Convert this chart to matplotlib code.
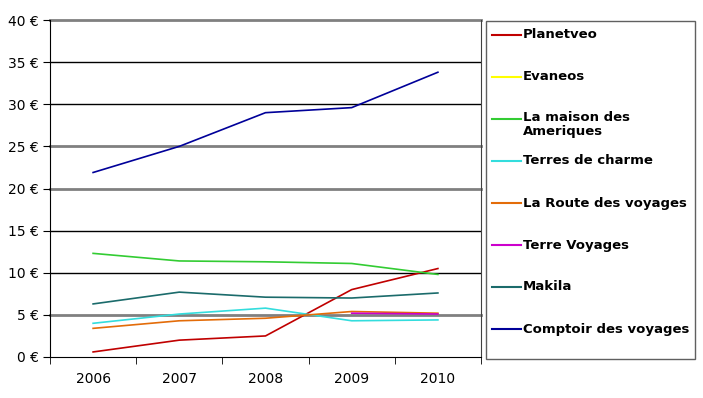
import numpy as np
import matplotlib
matplotlib.use('Agg')
from matplotlib import pyplot as plt
from matplotlib.lines import Line2D
from matplotlib.patches import Rectangle

years = ['2006', '2007', '2008', '2009', '2010']
nan = np.nan

planetveo = [0.6, 2.0, 2.5, 8.0, 10.5]
evaneos = [nan, nan, nan, nan, nan]
maison_ameriques = [12.3, 11.4, 11.3, 11.1, 9.8]
terres_charme = [4.0, 5.1, 5.8, 4.3, 4.4]
route_voyages = [3.4, 4.3, 4.6, 5.4, 5.2]
terre_voyages = [nan, nan, nan, 5.2, 5.1]
makila = [6.3, 7.7, 7.1, 7.0, 7.6]
comptoir = [21.9, 25.0, 29.0, 29.6, 33.8]

series = [
    ('Planetveo', planetveo, '#C00000'),
    ('Evaneos', evaneos, '#FFFF00'),
    ('La maison des\nAmeriques', maison_ameriques, '#33CC33'),
    ('Terres de charme', terres_charme, '#33DDDD'),
    ('La Route des voyages', route_voyages, '#E36C09'),
    ('Terre Voyages', terre_voyages, '#CC00CC'),
    ('Makila', makila, '#1B6B6B'),
    ('Comptoir des voyages', comptoir, '#000099'),
]

y_ticks = [0, 5, 10, 15, 20, 25, 30, 35, 40]
grey_grid = [5, 20, 25, 40]  # these look heavier/grey in the original

W, H = 703, 398
fig = plt.figure(figsize=(W / 100, H / 100), dpi=100)
ax = fig.add_axes([50 / W, (H - 357) / H, (481 - 50) / W, (357 - 20) / H])

x = np.arange(len(years))
for y in y_ticks[1:]:
    if y in grey_grid:
        ax.axhline(y, color='#808080', lw=2.0, zorder=1, clip_on=False)
    else:
        ax.axhline(y, color='black', lw=1.0, zorder=1)

for name, vals, col in series:
    ax.plot(x, vals, color=col, lw=1.2, zorder=3)

ax.set_xlim(-0.5, len(years) - 0.5)
ax.set_ylim(0, 40)
ax.set_yticks(y_ticks)
ax.set_yticklabels(['%d €' % v for v in y_ticks], fontsize=10)
ax.set_xticks(x)
ax.set_xticklabels(years, fontsize=10)
ax.set_xticks(np.arange(len(years) + 1) - 0.5, minor=True)
ax.tick_params(axis='x', which='major', length=0, pad=11)
ax.tick_params(axis='x', which='minor', length=5, direction='out', color='black')
ax.tick_params(axis='y', length=5, direction='out', pad=3)

ax.spines['top'].set_visible(False)
ax.spines['right'].set_color('#404040')

# legend drawn by hand so entries stay evenly spaced
fig.add_artist(Rectangle((486 / W, (H - 359) / H), (695 - 486) / W, (359 - 21) / H,
                         transform=fig.transFigure, fill=False, ec='#606060', lw=1.0))
for i, (name, vals, col) in enumerate(series):
    yy = 35 + 42 * i
    fig.add_artist(Line2D([492 / W, 521 / W], [(H - yy) / H] * 2,
                          transform=fig.transFigure, color=col, lw=1.5))
    if '\n' in name:
        fig.text(523 / W, (H - yy + 8) / H, name, fontsize=9.5, fontweight='bold',
                 va='top', ha='left', linespacing=1.15)
    else:
        fig.text(523 / W, (H - yy) / H, name, fontsize=9.5, fontweight='bold',
                 va='center', ha='left')

fig.savefig('out.png', dpi=100)
